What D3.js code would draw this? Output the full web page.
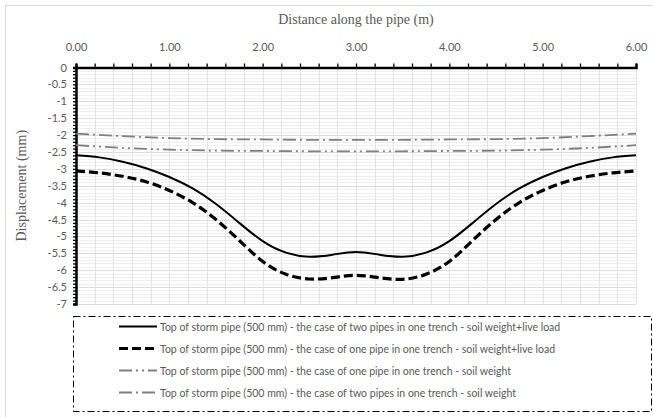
<!DOCTYPE html>
<html><head><meta charset="utf-8">
<script src="https://cdn.jsdelivr.net/npm/d3@7"></script>
<style>
html,body{margin:0;padding:0;background:#fff;}
svg{display:block;}
</style></head>
<body>
<svg id="chart" width="653" height="417"></svg>
<script>
// ---- data ----
const distance = [0, 0.25, 0.5, 0.75, 1.0, 1.25, 1.5, 1.75, 2.0, 2.25, 2.5, 2.75, 3.0,
                  3.25, 3.5, 3.75, 4.0, 4.25, 4.5, 4.75, 5.0, 5.25, 5.5, 5.75, 6.0];
const twoPipesLive = [-2.60, -2.66, -2.79, -2.98, -3.24, -3.58, -4.04, -4.60, -5.14, -5.48, -5.60, -5.54, -5.46,
                      -5.54, -5.60, -5.48, -5.14, -4.60, -4.04, -3.58, -3.24, -2.98, -2.79, -2.66, -2.60];
const onePipeLive = [-3.06, -3.12, -3.22, -3.38, -3.64, -4.00, -4.50, -5.12, -5.74, -6.12, -6.26, -6.22, -6.15,
                     -6.22, -6.27, -6.12, -5.74, -5.12, -4.50, -4.00, -3.64, -3.38, -3.22, -3.12, -3.06];
const distanceSoil = [0, 0.5, 1.0, 1.5, 2.0, 2.5, 3.0, 3.5, 4.0, 4.5, 5.0, 5.5, 6.0];
const onePipeSoil = [-2.30, -2.38, -2.43, -2.46, -2.47, -2.48, -2.48, -2.48, -2.47, -2.46, -2.43, -2.38, -2.30];
const twoPipesSoil = [-1.96, -2.03, -2.09, -2.12, -2.13, -2.14, -2.14, -2.14, -2.13, -2.12, -2.09, -2.03, -1.96];
const xTickLabels = ["0.00", "1.00", "2.00", "3.00", "4.00", "5.00", "6.00"];
const yTickValues = [0, -0.5, -1, -1.5, -2, -2.5, -3, -3.5, -4, -4.5, -5, -5.5, -6, -6.5, -7];
const seriesNames = [
  "Top of storm pipe (500 mm) - the case of two pipes in one trench - soil weight+live load",
  "Top of storm pipe (500 mm) - the case of one pipe in one trench - soil weight+live load",
  "Top of storm pipe (500 mm) - the case of one pipe in one trench - soil weight",
  "Top of storm pipe (500 mm) - the case of two pipes in one trench - soil weight"
];
const xTitle = "Distance along the pipe (m)";
const yTitle = "Displacement (mm)";

// ---- layout ----
const svg = d3.select("#chart");
const pL = 76, pR = 636, pT = 67.5, pB = 304;
const x = d3.scaleLinear().domain([0, 6]).range([pL, pR]);
const y = d3.scaleLinear().domain([0, -7]).range([pT, pB]);
const labelColor = "#595959";
const tickFont = "Lato, 'Open Sans', sans-serif";

// outer chart border
svg.append("rect").attr("x", 5.5).attr("y", 5.5).attr("width", 700).attr("height", 500)
  .attr("fill", "#fff").attr("stroke", "#d9d9d9").attr("stroke-width", 1);

// gridlines
const g = svg.append("g");
d3.range(0, 71).forEach(i => {
  const v = -i / 10;
  const major = i % 5 === 0;
  g.append("line").attr("x1", pL).attr("x2", pR)
    .attr("y1", Math.round(y(v)) + 0.5).attr("y2", Math.round(y(v)) + 0.5)
    .attr("stroke", major ? "#dcdcdc" : "#efefef").attr("stroke-width", 1);
});
d3.range(1, 31).forEach(i => {
  const v = i * 0.2;
  g.append("line").attr("y1", pT).attr("y2", pB)
    .attr("x1", Math.round(x(v)) + 0.5).attr("x2", Math.round(x(v)) + 0.5)
    .attr("stroke", "#e3e3e3").attr("stroke-width", 1);
});

// axes
const xAxis = d3.axisTop(x).tickValues(d3.range(0, 31).map(i => i * 0.2))
  .tickSize(4).tickFormat("");
svg.append("g").attr("transform", `translate(0,${pT})`).call(xAxis)
  .call(s => s.select(".domain").attr("stroke", "#000").attr("stroke-width", 2.5))
  .call(s => s.selectAll(".tick line").attr("stroke", "#000").attr("stroke-width", 1.3));
const xLab = d3.axisTop(x).tickValues(d3.range(0, 7)).tickSize(0).tickPadding(17)
  .tickFormat((d, i) => xTickLabels[i]);
svg.append("g").attr("transform", `translate(0,${pT})`).call(xLab)
  .call(s => s.select(".domain").remove())
  .call(s => s.selectAll("text").attr("fill", labelColor).attr("font-family", tickFont).attr("font-size", 11));

const yAxis = d3.axisLeft(y).tickValues(d3.range(0, 71).map(i => -i / 10)).tickSize(3).tickFormat("");
svg.append("g").attr("transform", `translate(${pL},0)`).call(yAxis)
  .call(s => s.select(".domain").attr("stroke", "#000").attr("stroke-width", 2.5))
  .call(s => s.selectAll(".tick line").attr("stroke", "#000").attr("stroke-width", 1.3));
const yLab = d3.axisLeft(y).tickValues(yTickValues).tickSize(0).tickPadding(9)
  .tickFormat(d => String(d));
svg.append("g").attr("transform", `translate(${pL},0)`).call(yLab)
  .call(s => s.select(".domain").remove())
  .call(s => s.selectAll("text").attr("fill", labelColor).attr("font-family", tickFont).attr("font-size", 11));

// titles
svg.append("text").attr("x", 356).attr("y", 24).attr("text-anchor", "middle")
  .attr("font-family", "'Liberation Serif', 'DejaVu Serif', serif").attr("font-size", 14)
  .attr("fill", labelColor).text(xTitle);
svg.append("text").attr("transform", `translate(26,${(pT + pB) / 2}) rotate(-90)`)
  .attr("text-anchor", "middle")
  .attr("font-family", "'Liberation Serif', 'DejaVu Serif', serif").attr("font-size", 14)
  .attr("fill", labelColor).text(yTitle);

// series
const styles = [
  {color: "#000", width: 2, dash: null},
  {color: "#000", width: 3.2, dash: "9,4"},
  {color: "#7f7f7f", width: 1.8, dash: "13,4,2,4,2,4"},
  {color: "#7f7f7f", width: 1.8, dash: "13,4,2,4"}
];
const seriesData = [
  distance.map((d, i) => [d, twoPipesLive[i]]),
  distance.map((d, i) => [d, onePipeLive[i]]),
  distanceSoil.map((d, i) => [d, onePipeSoil[i]]),
  distanceSoil.map((d, i) => [d, twoPipesSoil[i]])
];
const line = d3.line().x(d => x(d[0])).y(d => y(d[1])).curve(d3.curveNatural);
[3, 2, 1, 0].forEach(k => {
  svg.append("path").datum(seriesData[k]).attr("d", line)
    .attr("fill", "none").attr("stroke", styles[k].color).attr("stroke-width", styles[k].width)
    .attr("stroke-dasharray", styles[k].dash);
});

// legend
svg.append("rect").attr("x", 73.5).attr("y", 316.5).attr("width", 578).attr("height", 95)
  .attr("fill", "none").attr("stroke", "#000").attr("stroke-width", 1)
  .attr("stroke-dasharray", "7,3,2,3");
seriesNames.forEach((name, k) => {
  const ly = 326.5 + k * 22;
  svg.append("line").attr("x1", 119).attr("x2", 157).attr("y1", ly).attr("y2", ly)
    .attr("stroke", styles[k].color).attr("stroke-width", styles[k].width)
    .attr("stroke-dasharray", styles[k].dash);
  svg.append("text").attr("x", 160).attr("y", ly + 4).attr("fill", labelColor)
    .attr("font-family", tickFont).attr("font-size", 10.5).text(name);
});
</script>
</body></html>
